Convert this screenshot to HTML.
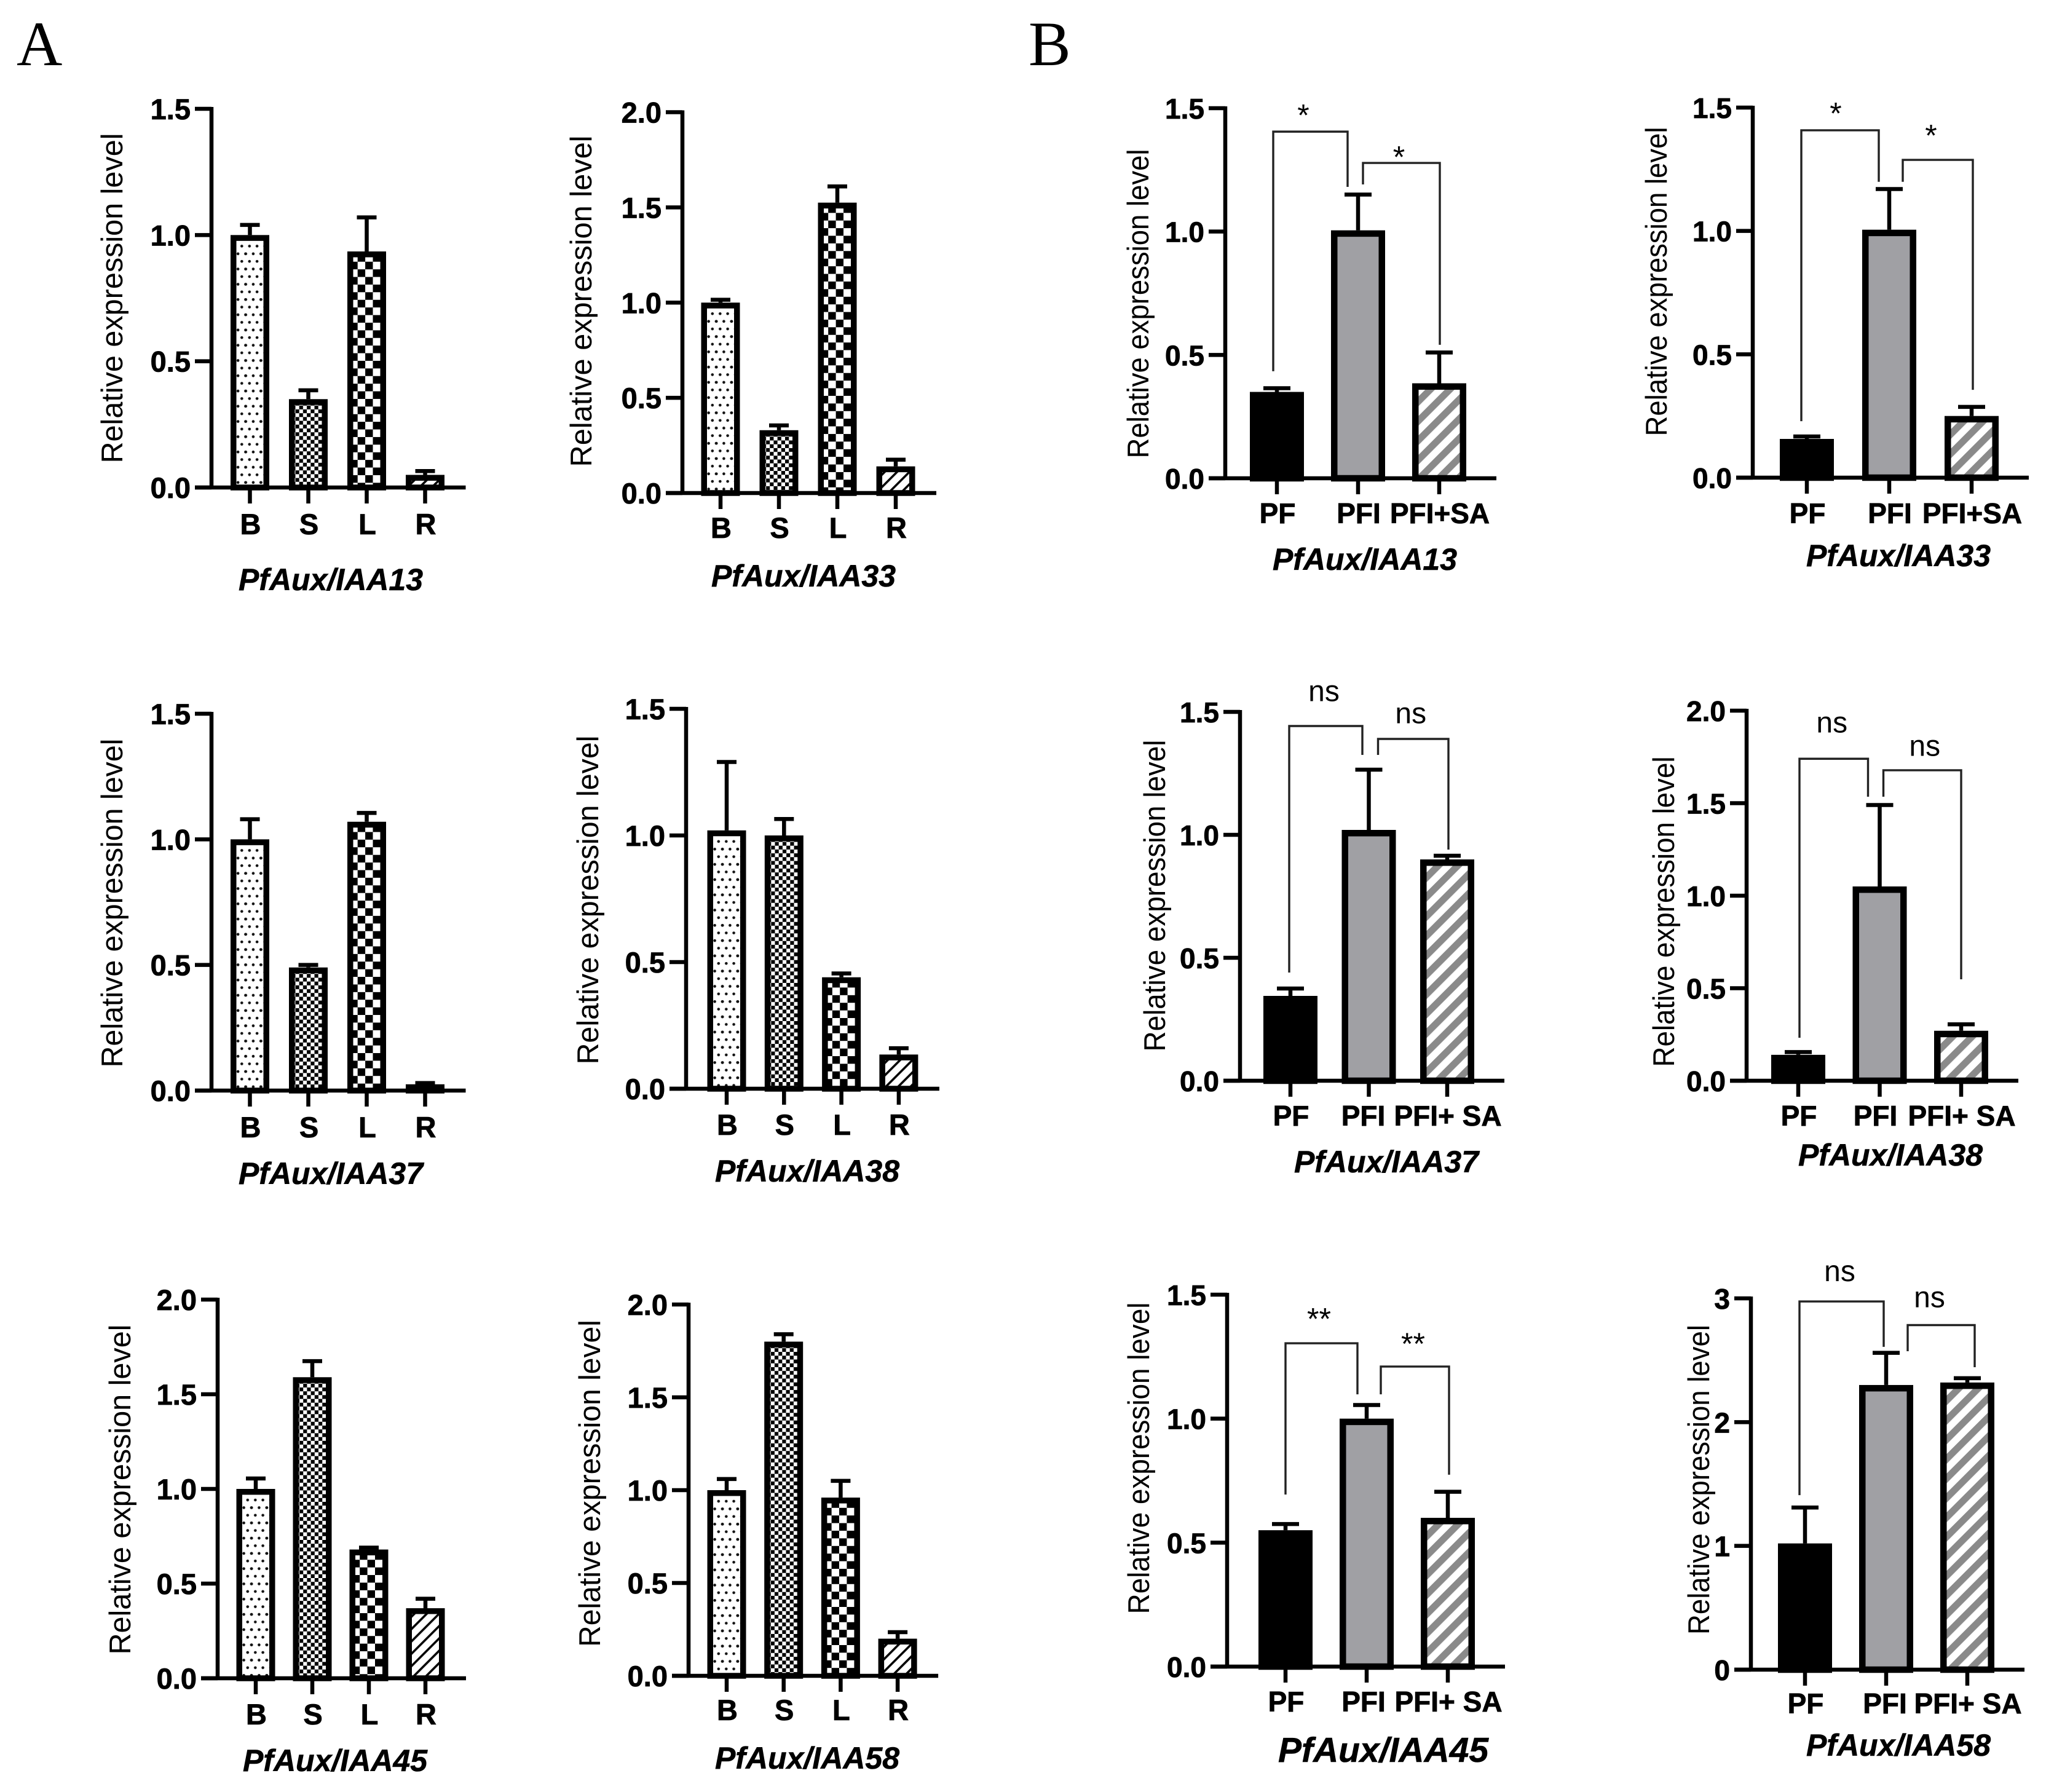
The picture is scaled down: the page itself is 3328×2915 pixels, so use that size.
<!DOCTYPE html>
<html lang="en">
<head>
<meta charset="utf-8">
<title>PfAux/IAA relative expression charts</title>
<style>
  html, body { margin: 0; padding: 0; background: #fff; }
  svg { display: block; }
  text { font-family: "Liberation Sans", sans-serif; fill: #000; }
</style>
</head>
<body>
<svg id="figure" xmlns="http://www.w3.org/2000/svg" width="3328" height="2915" viewBox="0 0 3328 2915">
  <rect x="0" y="0" width="3328" height="2915" fill="#ffffff"/>
  <text x="27" y="106" font-size="103" style="font-family:'Liberation Serif',serif">A</text>
  <text x="1673" y="106" font-size="103" style="font-family:'Liberation Serif',serif">B</text>
  <defs id="patterns"></defs>
</svg>
<script>
// ---- Data ----
const categoriesTissue = ['B', 'S', 'L', 'R'];
const categoriesTreatA = ['PF', 'PFI', 'PFI+SA'];
const categoriesTreatB = ['PF', 'PFI', 'PFI+ SA'];

const ticks15 = ['0.0', '0.5', '1.0', '1.5'];
const ticks20 = ['0.0', '0.5', '1.0', '1.5', '2.0'];
const ticks3 = ['0', '1', '2', '3'];

const valuesA13 = [1.0, 0.35, 0.935, 0.05];
const errorsA13 = [0.04, 0.035, 0.135, 0.015];
const valuesA33 = [1.0, 0.33, 1.525, 0.14];
const errorsA33 = [0.015, 0.025, 0.085, 0.035];
const valuesA37 = [1.0, 0.49, 1.07, 0.025];
const errorsA37 = [0.08, 0.01, 0.035, 0.005];
const valuesA38 = [1.02, 1.0, 0.44, 0.135];
const errorsA38 = [0.27, 0.065, 0.015, 0.025];
const valuesA45 = [1.0, 1.59, 0.68, 0.37];
const errorsA45 = [0.055, 0.085, 0.01, 0.05];
const valuesA58 = [1.0, 1.8, 0.96, 0.2];
const errorsA58 = [0.06, 0.04, 0.09, 0.035];

const valuesB13 = [0.35, 1.005, 0.385];
const errorsB13 = [0.015, 0.145, 0.125];
const valuesB33 = [0.157, 1.005, 0.25];
const errorsB33 = [0.01, 0.165, 0.037];
const valuesB37 = [0.345, 1.02, 0.9];
const errorsB37 = [0.03, 0.245, 0.015];
const valuesB38 = [0.14, 1.05, 0.27];
const errorsB38 = [0.015, 0.44, 0.035];
const valuesB45 = [0.55, 1.0, 0.6];
const errorsB45 = [0.025, 0.055, 0.105];
const valuesB58 = [1.02, 2.3, 2.32];
const errorsB58 = [0.29, 0.26, 0.035];

// Significance brackets: bar indices, feet and top in axis units
const bracketsB13 = [
  { label: '*', from: 0, dxFrom: -6, footFrom: 0.434, to: 1, dxTo: -17, footTo: 1.181, top: 1.405, labelDx: -11.5, labelAt: 1.5 },
  { label: '*', from: 1, dxFrom: 8, footFrom: 1.191, to: 2, dxTo: 1, footTo: 0.541, top: 1.278, labelDx: -4, labelAt: 1.33 }
];
const bracketsB33 = [
  { label: '*', from: 0, dxFrom: -9, footFrom: 0.229, to: 1, dxTo: -17, footTo: 1.199, top: 1.408, labelDx: -7, labelAt: 1.505 },
  { label: '*', from: 1, dxFrom: 22, footFrom: 1.199, to: 2, dxTo: 2, footTo: 0.356, top: 1.288, labelDx: -11, labelAt: 1.415 }
];
const bracketsB37 = [
  { label: 'ns', from: 0, dxFrom: -2, footFrom: 0.44, to: 1, dxTo: -10.5, footTo: 1.325, top: 1.4425, labelDx: -3, labelAt: 1.575 },
  { label: 'ns', from: 1, dxFrom: 15, footFrom: 1.325, to: 2, dxTo: 2, footTo: 0.94, top: 1.39, labelDx: -4, labelAt: 1.485 }
];
const bracketsB38 = [
  { label: 'ns', from: 0, dxFrom: 2, footFrom: 0.232, to: 1, dxTo: -19, footTo: 1.535, top: 1.74, labelDx: -3, labelAt: 1.924 },
  { label: 'ns', from: 1, dxFrom: 6, footFrom: 1.535, to: 2, dxTo: 0, footTo: 0.548, top: 1.678, labelDx: 4, labelAt: 1.797 }
];
const bracketsB45 = [
  { label: '**', from: 0, dxFrom: 0, footFrom: 0.694, to: 1, dxTo: -15, footTo: 1.098, top: 1.304, labelDx: -4, labelAt: 1.43 },
  { label: '**', from: 1, dxFrom: 23, footFrom: 1.098, to: 2, dxTo: 2, footTo: 0.774, top: 1.21, labelDx: -3, labelAt: 1.33 }
];
const bracketsB58 = [
  { label: 'ns', from: 0, dxFrom: -9, footFrom: 1.41, to: 1, dxTo: -4, footTo: 2.608, top: 2.975, labelDx: -3, labelAt: 3.2 },
  { label: 'ns', from: 1, dxFrom: 35, footFrom: 2.573, to: 2, dxTo: 12, footTo: 2.444, top: 2.784, labelDx: -19, labelAt: 2.99 }
];

// ---- Panel frames (layout only) ----
const panels = [
  { key: 'a-iaa13', kind: 'A', title: 'PfAux/IAA13', cats: categoriesTissue, ticks: ticks15, values: valuesA13, errors: errorsA13, brackets: [], ax: 344, y0: 793, yt: 177, first: 406.5, step: 95, xLab: 869, titleX: 538, titleY: 960, yLabX: 199, yLabY: 485, yLabL: 537 },
  { key: 'a-iaa33', kind: 'A', title: 'PfAux/IAA33', cats: categoriesTissue, ticks: ticks20, values: valuesA33, errors: errorsA33, brackets: [], ax: 1110, y0: 802, yt: 182.5, first: 1172, step: 95, xLab: 875, titleX: 1307, titleY: 954, yLabX: 962, yLabY: 490, yLabL: 539 },
  { key: 'a-iaa37', kind: 'A', title: 'PfAux/IAA37', cats: categoriesTissue, ticks: ticks15, values: valuesA37, errors: errorsA37, brackets: [], ax: 344, y0: 1774, yt: 1161, first: 406.5, step: 95, xLab: 1850, titleX: 538, titleY: 1926, yLabX: 199, yLabY: 1469, yLabL: 535 },
  { key: 'a-iaa38', kind: 'A', title: 'PfAux/IAA38', cats: categoriesTissue, ticks: ticks15, values: valuesA38, errors: errorsA38, brackets: [], ax: 1116, y0: 1771, yt: 1153, first: 1182, step: 93.3, xLab: 1846, titleX: 1313, titleY: 1922, yLabX: 973, yLabY: 1464, yLabL: 535 },
  { key: 'a-iaa45', kind: 'A', title: 'PfAux/IAA45', cats: categoriesTissue, ticks: ticks20, values: valuesA45, errors: errorsA45, brackets: [], ax: 354, y0: 2730, yt: 2114, first: 416, step: 92, xLab: 2805, titleX: 545, titleY: 2881, yLabX: 212, yLabY: 2423, yLabL: 537 },
  { key: 'a-iaa58', kind: 'A', title: 'PfAux/IAA58', cats: categoriesTissue, ticks: ticks20, values: valuesA58, errors: errorsA58, brackets: [], ax: 1120, y0: 2726, yt: 2122, first: 1182, step: 92.7, xLab: 2798, titleX: 1313, titleY: 2877, yLabX: 976, yLabY: 2413, yLabL: 532 },
  { key: 'b-iaa13', kind: 'B', title: 'PfAux/IAA13', cats: categoriesTreatA, ticks: ticks15, values: valuesB13, errors: errorsB13, brackets: bracketsB13, ax: 1993, y0: 778, yt: 176, first: 2077, step: 132, midShift: 0, xLab: 851, titleX: 2220, titleY: 927, yLabX: 1868, yLabY: 494, yLabL: 503 },
  { key: 'b-iaa33', kind: 'B', title: 'PfAux/IAA33', cats: categoriesTreatA, ticks: ticks15, values: valuesB33, errors: errorsB33, brackets: bracketsB33, ax: 2851, y0: 777, yt: 175, first: 2939, step: 134, midShift: 0, xLab: 851, titleX: 3088, titleY: 921, yLabX: 2711, yLabY: 458, yLabL: 503 },
  { key: 'b-iaa37', kind: 'B', title: 'PfAux/IAA37', cats: categoriesTreatB, ticks: ticks15, values: valuesB37, errors: errorsB37, brackets: bracketsB37, ax: 2017, y0: 1758, yt: 1158, first: 2099, step: 127.5, midShift: -10, xLab: 1831, titleX: 2255, titleY: 1907, yLabX: 1895, yLabY: 1457, yLabL: 507 },
  { key: 'b-iaa38', kind: 'B', title: 'PfAux/IAA38', cats: categoriesTreatB, ticks: ticks20, values: valuesB38, errors: errorsB38, brackets: bracketsB38, ax: 2841, y0: 1758, yt: 1156, first: 2925, step: 132.5, midShift: -8, xLab: 1831, titleX: 3075, titleY: 1896, yLabX: 2723, yLabY: 1483, yLabL: 505 },
  { key: 'b-iaa45', kind: 'B', title: 'PfAux/IAA45', cats: categoriesTreatB, ticks: ticks15, values: valuesB45, errors: errorsB45, brackets: bracketsB45, ax: 1996, y0: 2711, yt: 2106, first: 2091, step: 132, midShift: -6, xLab: 2784, titleX: 2250, titleY: 2866, titleSize: 57, yLabX: 1869, yLabY: 2372, yLabL: 507 },
  { key: 'b-iaa58', kind: 'B', title: 'PfAux/IAA58', cats: categoriesTreatB, ticks: ticks3, values: valuesB58, errors: errorsB58, brackets: bracketsB58, ax: 2848, y0: 2716, yt: 2112, first: 2936, step: 132, midShift: -3, xLab: 2787, titleX: 3088, titleY: 2856, yLabX: 2780, yLabY: 2407, yLabL: 504 }
];

// ---- Drawing ----
const NS = 'http://www.w3.org/2000/svg';
const svg = document.getElementById('figure');
const defs = document.getElementById('patterns');

function make(tag, attrs, parent) {
  const node = document.createElementNS(NS, tag);
  Object.keys(attrs).forEach(function (k) { node.setAttribute(k, attrs[k]); });
  parent.appendChild(node);
  return node;
}

function named(tag, attrs, parent, name) {
  const node = make(tag, attrs, parent);
  
  
  return node;
}

let patternCount = 0;

function newPattern(size, left, top, extra) {
  patternCount += 1;
  const id = 'fill-' + patternCount;
  const transform = 'translate(' + left + ' ' + top + ')' + (extra || '');
  const pattern = make('pattern', { id: id, patternUnits: 'userSpaceOnUse', width: size, height: size, patternTransform: transform }, defs);
  return { id: id, node: pattern };
}

function dotFill(left, top) {
  const p = newPattern(24.8, left, top);
  make('rect', { x: 0, y: 0, width: 24.8, height: 24.8, fill: '#ffffff' }, p.node);
  make('circle', { cx: 18.3, cy: 18, r: 2.3, fill: '#111111' }, p.node);
  make('circle', { cx: 6, cy: 18, r: 2.3, fill: '#111111' }, p.node);
  make('circle', { cx: 12.1, cy: 5.7, r: 2.3, fill: '#111111' }, p.node);
  make('circle', { cx: 24.4, cy: 5.7, r: 2.3, fill: '#111111' }, p.node);
  make('circle', { cx: 0, cy: 5.7, r: 2.3, fill: '#111111' }, p.node);
  return 'url(#' + p.id + ')';
}

function checkFill(left, top, cell, ox) {
  const size = cell * 2;
  const p = newPattern(size, left + ox, top + ox);
  make('rect', { x: 0, y: 0, width: size, height: size, fill: '#000000' }, p.node);
  make('rect', { x: 0, y: 0, width: cell, height: cell, fill: '#ffffff' }, p.node);
  make('rect', { x: cell, y: cell, width: cell, height: cell, fill: '#ffffff' }, p.node);
  return 'url(#' + p.id + ')';
}

function stripeFill(left, top, size, bar, color) {
  const p = newPattern(size, left, top, ' rotate(-45)');
  make('rect', { x: 0, y: 0, width: size, height: size, fill: '#ffffff' }, p.node);
  make('rect', { x: 0, y: 0, width: size, height: bar, fill: color }, p.node);
  return 'url(#' + p.id + ')';
}

function barFill(kind, index, left, top) {
  if (kind === 'A') {
    if (index === 0) return dotFill(left, top);
    if (index === 1) return checkFill(left, top, 6.2, 4.3);
    if (index === 2) return checkFill(left, top, 12.4, 4.3);
    return stripeFill(left, top, 14.2, 3.6, '#000000');
  }
  if (index === 0) return '#000000';
  if (index === 1) return '#a0a0a4';
  return stripeFill(left, top, 22.4, 11.2, '#8a8a8a');
}

panels.forEach(function (p) {
  const g = named('g', {}, svg, 'chart-' + p.key);
  const tickValues = p.ticks.map(Number);
  const maxTick = tickValues[tickValues.length - 1];
  const y = function (v) { return p.y0 - (v / maxTick) * (p.y0 - p.yt); };
  const x = function (i) { return p.first + i * p.step; };
  const isA = p.kind === 'A';
  const barW = isA ? 63 : 88;
  const stroke = isA ? 9.5 : 10.5;
  const capW = isA ? 32 : 44;
  const labelSize = isA ? 47 : 46;
  const lastX = x(p.cats.length - 1);
  const axisEnd = lastX + (isA ? 66 : 93);

  // Error bars sit behind the bars
  p.values.forEach(function (v, i) {
    const cx = x(i);
    const top = y(v + p.errors[i]);
    named('line', { x1: cx, x2: cx, y1: y(v), y2: top, stroke: '#000', 'stroke-width': 6.5 }, g, 'error-stem-' + p.cats[i]);
    named('line', { x1: cx - capW / 2, x2: cx + capW / 2, y1: top, y2: top, stroke: '#000', 'stroke-width': 6.5 }, g, 'error-cap-' + p.cats[i]);
  });

  // Bars
  p.values.forEach(function (v, i) {
    const left = x(i) - barW / 2;
    const top = y(v);
    const h = Math.max(p.y0 - top - stroke / 2, 0.5);
    named('rect', {
      x: left + stroke / 2,
      y: top + stroke / 2,
      width: barW - stroke,
      height: h,
      fill: barFill(p.kind, i, left, top),
      stroke: '#000',
      'stroke-width': stroke
    }, g, 'bar-' + p.cats[i]);
  });

  // Axes
  named('line', { x1: p.ax, x2: p.ax, y1: p.yt - 3, y2: p.y0 + 3, stroke: '#000', 'stroke-width': 6.5 }, g, 'y-axis');
  named('line', { x1: p.ax - 27, x2: axisEnd, y1: p.y0, y2: p.y0, stroke: '#000', 'stroke-width': 6.5 }, g, 'x-axis');

  p.ticks.forEach(function (label, i) {
    const ty = y(tickValues[i]);
    named('line', { x1: p.ax - 27, x2: p.ax, y1: ty, y2: ty, stroke: '#000', 'stroke-width': 6.5 }, g, 'y-tick');
    const t = named('text', { x: p.ax - 34, y: ty + 17, 'text-anchor': 'end', 'font-size': labelSize, 'font-weight': 'bold', stroke: '#000', 'stroke-width': 0.8 }, g, 'y-tick-label');
    t.textContent = label;
  });

  p.cats.forEach(function (label, i) {
    named('line', { x1: x(i), x2: x(i), y1: p.y0, y2: p.y0 + 26, stroke: '#000', 'stroke-width': 6.5 }, g, 'x-tick');
    const shift = (!isA && i === 1) ? p.midShift : 0;
    const t = named('text', { x: x(i) + 1 + shift, y: p.xLab, 'text-anchor': 'middle', 'font-size': labelSize, 'font-weight': 'bold', stroke: '#000', 'stroke-width': 0.8 }, g, 'x-tick-label');
    t.textContent = label;
  });

  // Axis titles
  const yTitle = named('text', {
    x: 0, y: 0,
    transform: 'translate(' + p.yLabX + ' ' + p.yLabY + ') rotate(-90)',
    'text-anchor': 'middle',
    'font-size': 49,
    textLength: p.yLabL,
    lengthAdjust: 'spacingAndGlyphs'
  }, g, 'y-axis-title');
  yTitle.textContent = 'Relative expression level';

  const title = named('text', {
    x: p.titleX, y: p.titleY,
    'text-anchor': 'middle',
    'font-size': p.titleSize || 50,
    'font-weight': 'bold',
    'font-style': 'italic',
    stroke: '#000',
    'stroke-width': 0.6
  }, g, 'gene-title');
  title.textContent = p.title;

  // Significance brackets
  p.brackets.forEach(function (b) {
    const x1 = x(b.from) + b.dxFrom;
    const x2 = x(b.to) + b.dxTo;
    const d = 'M' + x1 + ' ' + y(b.footFrom) + 'V' + y(b.top) + 'H' + x2 + 'V' + y(b.footTo);
    named('path', { d: d, fill: 'none', stroke: '#222', 'stroke-width': 3.4 }, g, 'significance-bracket');
    const isStar = b.label.indexOf('*') === 0;
    const size = isStar ? 50 : 48;
    const shift = isStar ? 0.57 * size : 0.26 * size;
    const t = named('text', {
      x: (x1 + x2) / 2 + b.labelDx,
      y: y(b.labelAt) + shift,
      'text-anchor': 'middle',
      'font-size': size
    }, g, 'significance-label');
    t.textContent = b.label;
  });
});
</script>
</body>
</html>
